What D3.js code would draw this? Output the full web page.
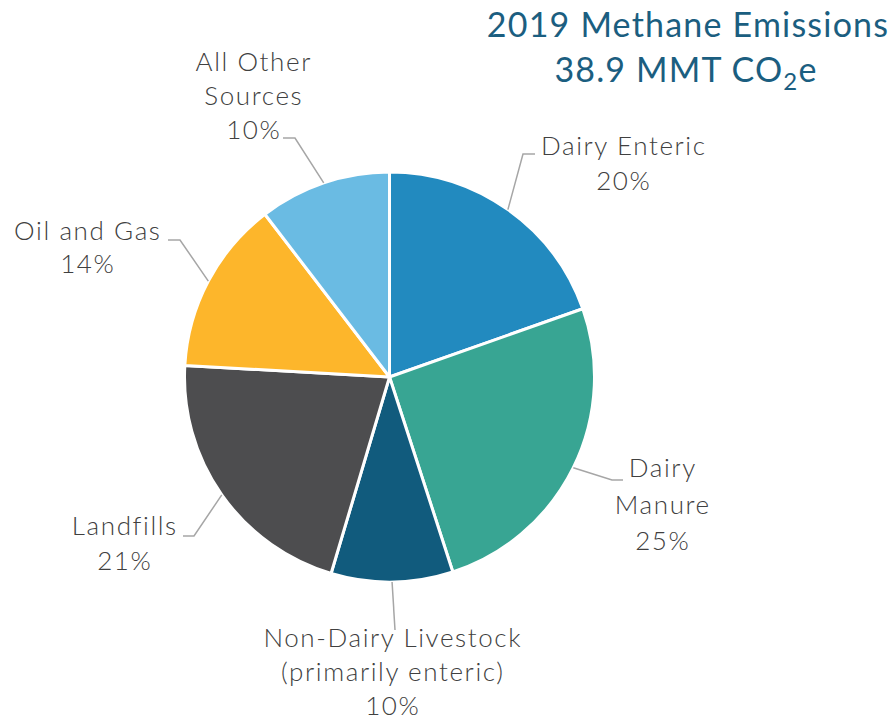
<!DOCTYPE html>
<html>
<head>
<meta charset="utf-8">
<script src="https://cdn.jsdelivr.net/npm/d3@7"></script>
<style>
  html, body { margin: 0; padding: 0; background: #fff; }
  svg { display: block; }
</style>
</head>
<body>
<svg id="chart" width="893" height="721"></svg>
<script>
// ---- data ----
const categories = ["Dairy Enteric", "Dairy Manure", "Non-Dairy Livestock", "Landfills", "Oil and Gas", "All Other Sources"];
const labelLines = [
  ["Dairy Enteric"],
  ["Dairy", "Manure"],
  ["Non-Dairy Livestock", "(primarily enteric)"],
  ["Landfills"],
  ["Oil and Gas"],
  ["All Other", "Sources"]
];
const shares = [19.6, 25.4, 9.6, 21.3, 13.7, 10.4];   // percent of total
const percentLabels = ["20%", "25%", "10%", "21%", "14%", "10%"];
const titleLine1 = "2019 Methane Emissions";
const titleLine2 = ["38.9 MMT CO", "2", "e"];

// ---- layout / style ----
const colors = ["#228ABF", "#38A593", "#115B7D", "#4D4D4F", "#FDB62B", "#6ABBE3"];
const cx = 389.5, cy = 377, R = 205;
// per-label: elbow point, horizontal end, text centre x, first baseline, line height (absolute px)
const labelLayout = [
  { elbow: [523, 154], end: [535, 154], tx: 623, ty: 155, lh: 35 },
  { elbow: [612, 480], end: [623, 480], tx: 662, ty: 477, lh: 36.5 },
  { elbow: [395, 630], end: [395, 630], tx: 392, ty: 647, lh: 34 },
  { elbow: [194, 536], end: [183, 536], tx: 124, ty: 535, lh: 35 },
  { elbow: [180, 240], end: [168, 240], tx: 87, ty: 240, lh: 33 },
  { elbow: [295, 138], end: [283, 138], tx: 253, ty: 71, lh: 34 }
];

const svg = d3.select("#chart");

const pie = d3.pie().sort(null).value(d => d)(shares);
const arc = d3.arc().innerRadius(0).outerRadius(R);

const g = svg.append("g").attr("transform", `translate(${cx},${cy})`);
g.selectAll("path.slice")
  .data(pie)
  .join("path")
  .attr("class", "slice")
  .attr("d", arc)
  .attr("fill", (d, i) => colors[i])
  .attr("stroke", "#fff")
  .attr("stroke-width", 3)
  .attr("stroke-linejoin", "round");

// leader lines
const edgeArc = d3.arc().innerRadius(R).outerRadius(R);
pie.forEach((d, i) => {
  const c = edgeArc.centroid(d);
  const L = labelLayout[i];
  const start = [cx + c[0], cy + c[1]];
  svg.append("polyline")
    .attr("points", [start, L.elbow, L.end].map(p => p.join(",")).join(" "))
    .attr("fill", "none")
    .attr("stroke", "#A6A6A6")
    .attr("stroke-width", 1.5);
});

// labels
const font = "Lato, 'Open Sans', sans-serif";
labelLines.forEach((lines, i) => {
  const L = labelLayout[i];
  const t = svg.append("text")
    .attr("text-anchor", "middle")
    .attr("font-family", font)
    .attr("font-weight", 300)
    .attr("font-size", 26)
    .attr("letter-spacing", 1.6)
    .attr("fill", "#404040");
  lines.concat([percentLabels[i]]).forEach((s, k) => {
    t.append("tspan").attr("x", L.tx + 0.8).attr("y", L.ty + k * L.lh).text(s);
  });
});

// title
const title = svg.append("text")
  .attr("text-anchor", "middle")
  .attr("font-family", font)
  .attr("font-size", 34)
  .attr("letter-spacing", 1.2)
  .attr("fill", "#1B5E80");
title.append("tspan").attr("x", 688).attr("y", 37).text(titleLine1);
const t2 = svg.append("text")
  .attr("text-anchor", "middle")
  .attr("font-family", font)
  .attr("font-size", 34)
  .attr("letter-spacing", 1.15)
  .attr("fill", "#1B5E80")
  .attr("x", 686).attr("y", 82);
t2.append("tspan").text(titleLine2[0]);
t2.append("tspan").attr("font-size", 24).attr("dy", 8).text(titleLine2[1]);
t2.append("tspan").attr("dy", -8).text(titleLine2[2]);
</script>
</body>
</html>
